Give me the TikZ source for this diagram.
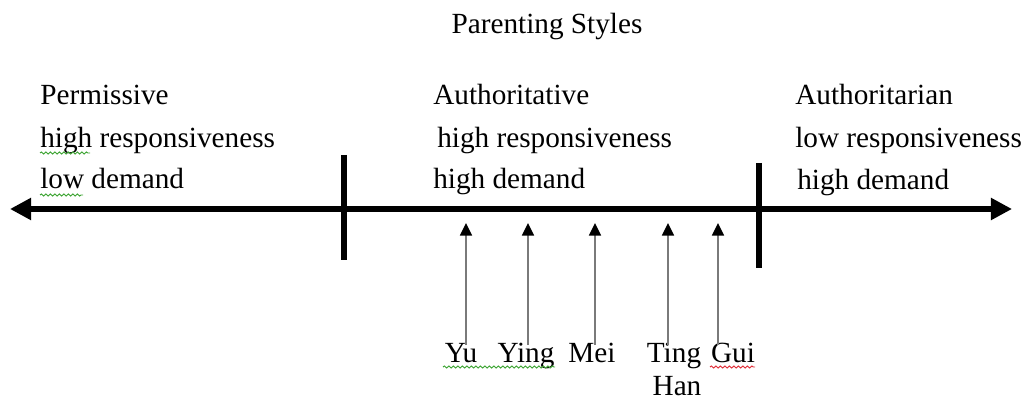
\documentclass[tikz,border=0pt]{standalone}
\usepackage{fontspec}
\setmainfont{Liberation Serif}
\usepackage{tikz}
\usetikzlibrary{arrows.meta, positioning, calc, decorations.pathmorphing}
\definecolor{SpellGreen}{HTML}{3FA535}
\definecolor{SpellRed}{HTML}{E0303A}
\definecolor{StemGray}{HTML}{7A7A7A}

\begin{document}
\begin{tikzpicture}[
    x=0.025cm, y=-0.025cm,
    lbl/.style={anchor=base west, inner sep=0pt, font=\fontsize{20.8}{25}\selectfont},
    kid/.style={anchor=base, inner sep=0pt, font=\fontsize{20.8}{25}\selectfont},
    axis/.style={line width=3.6pt, {Triangle[length=15pt, width=15pt]}-{Triangle[length=15pt, width=15pt]}},
    divider/.style={line width=3.6pt},
    pointer/.style={draw=StemGray, line width=1.3pt, -{Triangle[length=9pt, width=8.5pt, color=black]}},
    squiggle/.style={line width=0.7pt, decorate, decoration={snake, amplitude=0.7pt, segment length=3.2pt}}
]
    \useasboundingbox (0,0) rectangle (1027,400);

    % Title
    \node[kid] (title) at (547,34) {Parenting Styles};

    % Three styles
    \node[lbl] (perm)     at (40,105)  {Permissive};
    \node[lbl] (permResp) at (40,148)  {high responsiveness};
    \node[lbl] (permDem)  at (40,189)  {low demand};

    \node[lbl] (auth)     at (433,105) {Authoritative};
    \node[lbl] (authResp) at (437,148) {high responsiveness};
    \node[lbl] (authDem)  at (433,189) {high demand};

    \node[lbl] (autn)     at (795,105) {Authoritarian};
    \node[lbl] (autnResp) at (795,148) {low responsiveness};
    \node[lbl] (autnDem)  at (797,190) {high demand};

    % Continuum and dividers
    \coordinate (west) at (10,209);
    \coordinate (east) at (1012,209);
    \draw[axis] (west) -- (east);
    \draw[divider] (344,155) -- (344,260);
    \draw[divider] (759,163) -- (759,268);

    % Children
    \node[kid] (yu)   at (461,362) {Yu};
    \node[kid] (ying) at (526,362) {Ying};
    \node[kid] (mei)  at (592,362) {Mei};
    \node[kid] (ting) at (674,362) {Ting};
    \node[kid] (gui)  at (733,362) {Gui};
    \node[kid] (han)  at (677,395) {Han};

    \coordinate (pYu)   at (466,223);
    \coordinate (pYing) at (528,223);
    \coordinate (pMei)  at (595,223);
    \coordinate (pTing) at (668,223);
    \coordinate (pGui)  at (718,223);

    \draw[pointer] (pYu |- 0,345)   -- (pYu);
    \draw[pointer] (pYing |- 0,345) -- (pYing);
    \draw[pointer] (pMei |- 0,345)  -- (pMei);
    \draw[pointer] (pTing |- 0,345) -- (pTing);
    \draw[pointer] (pGui |- 0,345)  -- (pGui);

    % Spell-check marks
    \draw[squiggle, SpellGreen] (40,153) -- (90,153);
    \draw[squiggle, SpellGreen] (40,195) -- (83,195);
    \draw[squiggle, SpellGreen] (443,367) -- (555,367);
    \draw[squiggle, SpellRed]   (710,367) -- (755,367);
\end{tikzpicture}
\end{document}
